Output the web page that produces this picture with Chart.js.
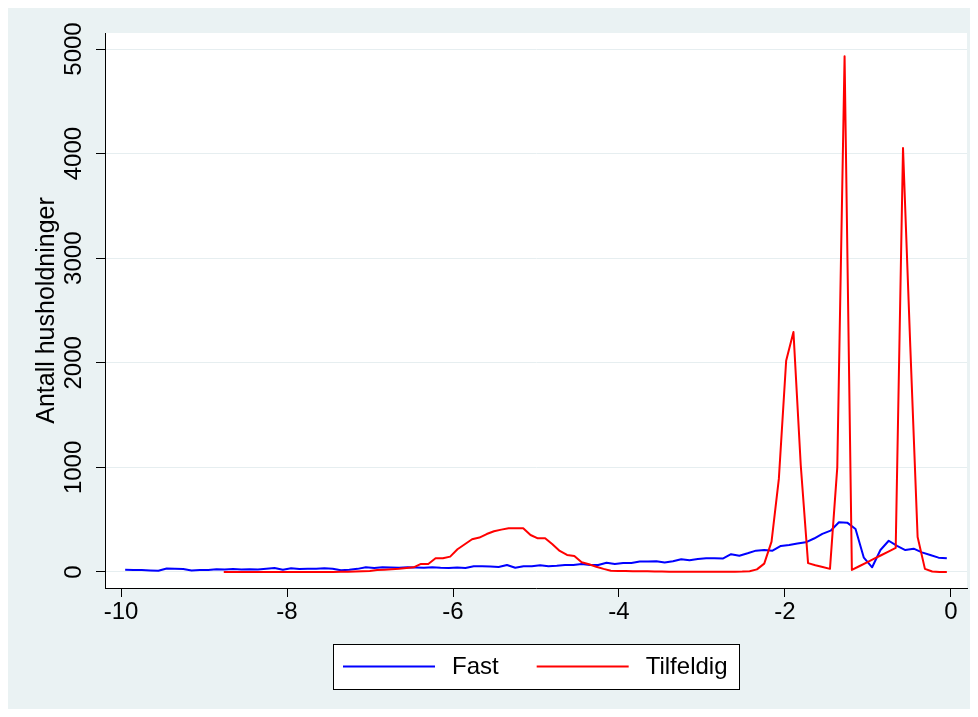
<!DOCTYPE html>
<html>
<head>
<meta charset="utf-8">
<script src="https://cdn.jsdelivr.net/npm/chart.js@4"></script>
<style>
html, body { margin: 0; padding: 0; background: #fff; }
canvas { display: block; }
</style>
</head>
<body>
<canvas id="chart" width="978" height="717"></canvas>
<script>
// Fast: x positions and number of households
const fastX = [
  -9.95, -9.85, -9.75, -9.65, -9.55, -9.45, -9.35, -9.25, -9.15, -9.05,
  -8.95, -8.85, -8.75, -8.65, -8.55, -8.45, -8.35, -8.25, -8.15, -8.05,
  -7.95, -7.85, -7.75, -7.65, -7.55, -7.45, -7.35, -7.25, -7.15, -7.05,
  -6.95, -6.85, -6.75, -6.65, -6.55, -6.45, -6.35, -6.25, -6.15, -6.05,
  -5.95, -5.85, -5.75, -5.65, -5.55, -5.45, -5.35, -5.25, -5.15, -5.05,
  -4.95, -4.85, -4.75, -4.65, -4.55, -4.45, -4.35, -4.25, -4.15, -4.05,
  -3.95, -3.85, -3.75, -3.65, -3.55, -3.45, -3.35, -3.25, -3.15, -3.05,
  -2.95, -2.85, -2.75, -2.65, -2.55, -2.45, -2.35, -2.25, -2.15, -2.05,
  -1.95, -1.85, -1.75, -1.65, -1.55, -1.45, -1.35, -1.25, -1.15, -1.05,
  -0.95, -0.85, -0.75, -0.65, -0.55, -0.45, -0.35, -0.25, -0.15, -0.05
];
const fastY = [
  22, 20, 18, 15, 12, 33, 32, 28, 15, 18,
  20, 26, 25, 28, 25, 26, 25, 32, 38, 22,
  35, 28, 30, 32, 35, 32, 16, 22, 30, 45,
  38, 45, 42, 40, 45, 42, 40, 45, 40, 38,
  42, 38, 55, 55, 52, 48, 67, 40, 55, 55,
  64, 55, 60, 67, 67, 77, 67, 67, 88, 77,
  85, 86, 100, 100, 103, 90, 103, 122, 112, 124,
  131, 131, 128, 170, 156, 179, 204, 210, 204, 249,
  258, 272, 284, 320, 365, 395, 475, 472, 411, 137,
  45, 210, 299, 249, 210, 223, 188, 163, 137, 131
];

// Tilfeldig: x positions and number of households
const tilfX = [
  -8.762, -8.674, -8.586, -8.498, -8.410, -8.322, -8.234, -8.146, -8.058, -7.970,
  -7.882, -7.794, -7.706, -7.618, -7.530, -7.442, -7.354, -7.266, -7.178, -7.090,
  -7.002, -6.914, -6.826, -6.738, -6.650, -6.562, -6.474, -6.386, -6.298, -6.210,
  -6.122, -6.034, -5.946, -5.858, -5.770, -5.682, -5.594, -5.506, -5.418, -5.330,
  -5.242, -5.154, -5.066, -4.978, -4.890, -4.802, -4.714, -4.626, -4.538, -4.450,
  -4.362, -4.274, -4.186, -4.098, -4.010, -3.922, -3.834, -3.746, -3.658, -3.570,
  -3.482, -3.394, -3.306, -3.218, -3.130, -3.042, -2.954, -2.866, -2.778, -2.690,
  -2.602, -2.514, -2.426, -2.338, -2.250, -2.162, -2.074, -1.986, -1.898, -1.810,
  -1.722, -1.634, -1.546, -1.458, -1.370, -1.282, -1.194, -1.106, -1.018, -0.930,
  -0.842, -0.754, -0.666, -0.578, -0.490, -0.402, -0.314, -0.226, -0.138, -0.050
];
const tilfY = [
  0, 0, 0, 0, 0, 0, 0, 0, 0, 0,
  0, 0, 0, 0, 0, 0, 2, 3, 5, 8,
  10, 18, 22, 26, 30, 38, 45, 77, 77, 131,
  131, 147, 217, 265, 313, 329, 363, 389, 405, 418,
  418, 418, 354, 322, 322, 265, 201, 163, 153, 93,
  74, 50, 30, 12, 10, 9, 8, 7, 6, 5,
  4, 3, 3, 2, 2, 2, 2, 2, 2, 2,
  3, 4, 8, 25, 80, 290, 890, 2020, 2294, 1020,
  85, 65, 48, 30, 1000, 4930, 20, 55, 90, 125,
  160, 195, 230, 4054, 2150, 335, 30, 5, 0, 0
];

const seriesNames = ['Fast', 'Tilfeldig'];
const xTicks = [-10, -8, -6, -4, -2, 0];
const yTicks = [0, 1000, 2000, 3000, 4000, 5000];
const yTitle = 'Antall husholdninger';

const FONT = '"Liberation Sans", Arial, sans-serif';
const regionColor = '#eaf2f3';

// graph region + white plot region
const background = {
  id: 'background',
  beforeDraw(chart) {
    const ctx = chart.ctx;
    const a = chart.chartArea;
    ctx.save();
    ctx.fillStyle = '#ffffff';
    ctx.fillRect(0, 0, chart.width, chart.height);
    ctx.fillStyle = regionColor;
    ctx.fillRect(8, 8, chart.width - 16, chart.height - 16);
    ctx.fillStyle = '#ffffff';
    ctx.fillRect(a.left, a.top, a.right - a.left, a.bottom - a.top);
    ctx.restore();
  }
};

// boxed legend under the plot, like Stata
const boxLegend = {
  id: 'boxLegend',
  afterDraw(chart) {
    const ctx = chart.ctx;
    const a = chart.chartArea;
    const lineLen = 92, padL = 10, gapText = 17, gapItem = 38, padR = 12;
    const boxTop = 644, boxH = 45;
    ctx.save();
    ctx.font = '24px ' + FONT;
    const items = chart.data.datasets.map(ds => ({
      label: ds.label, color: ds.borderColor, w: ctx.measureText(ds.label).width
    }));
    let total = padL + padR;
    items.forEach((it, i) => { total += lineLen + gapText + it.w + (i ? gapItem : 0); });
    const left = Math.round((a.left + a.right) / 2 - total / 2);
    ctx.fillStyle = '#ffffff';
    ctx.fillRect(left, boxTop, total, boxH);
    ctx.strokeStyle = '#000000';
    ctx.lineWidth = 1;
    ctx.strokeRect(left + 0.5, boxTop + 0.5, Math.round(total), boxH);
    const cy = boxTop + boxH / 2;
    let x = left + padL;
    items.forEach((it, i) => {
      if (i) x += gapItem;
      ctx.strokeStyle = it.color;
      ctx.lineWidth = 2;
      ctx.beginPath();
      ctx.moveTo(x, cy);
      ctx.lineTo(x + lineLen, cy);
      ctx.stroke();
      x += lineLen + gapText;
      ctx.fillStyle = '#000000';
      ctx.textAlign = 'left';
      ctx.textBaseline = 'middle';
      ctx.fillText(it.label, x, cy + 1);
      x += it.w;
    });
    ctx.restore();
  }
};

const ctx = document.getElementById('chart').getContext('2d');
const chart = new Chart(ctx, {
  type: 'line',
  data: {
    datasets: [{
      label: seriesNames[0],
      data: fastX.map((x, i) => ({ x: x, y: fastY[i] })),
      borderColor: '#0000ff',
      borderWidth: 2,
      pointRadius: 0,
      borderJoinStyle: 'round',
      fill: false,
      tension: 0,
      order: 1
    }, {
      label: seriesNames[1],
      data: tilfX.map((x, i) => ({ x: x, y: tilfY[i] })),
      borderColor: '#ff0000',
      borderWidth: 2,
      pointRadius: 0,
      borderJoinStyle: 'round',
      fill: false,
      tension: 0,
      order: 0
    }]
  },
  options: {
    responsive: false,
    animation: false,
    devicePixelRatio: 1,
    layout: { padding: { left: 0, top: 33, right: 11, bottom: 0 } },
    plugins: {
      legend: { display: false },
      tooltip: { enabled: false }
    },
    scales: {
      x: {
        type: 'linear',
        min: -10.193,
        max: 0.193,
        afterBuildTicks: s => { s.ticks = xTicks.map(v => ({ value: v })); },
        afterFit: s => { s.height = 129; },
        grid: { drawOnChartArea: false, tickColor: '#000', tickLength: 9 },
        border: { color: '#000', width: 1 },
        ticks: {
          font: { family: FONT, size: 24 },
          color: '#000',
          padding: 1,
          maxRotation: 0,
          autoSkip: false,
          callback: v => String(v)
        }
      },
      y: {
        type: 'linear',
        min: -153,
        max: 5153,
        afterBuildTicks: s => { s.ticks = yTicks.map(v => ({ value: v })); },
        afterFit: s => { s.width = 105; },
        grid: { color: '#e6eef0', tickColor: '#000', tickLength: 9 },
        border: { color: '#000', width: 1 },
        ticks: {
          font: { family: FONT, size: 24 },
          color: '#000',
          minRotation: 90,
          maxRotation: 90,
          crossAlign: 'center',
          padding: -5,
          autoSkip: false,
          callback: v => String(v)
        },
        title: {
          display: true,
          text: yTitle,
          font: { family: FONT, size: 25 },
          color: '#000',
          padding: { top: 32, bottom: 0 }
        }
      }
    }
  },
  plugins: [background, boxLegend]
});
</script>
</body>
</html>
